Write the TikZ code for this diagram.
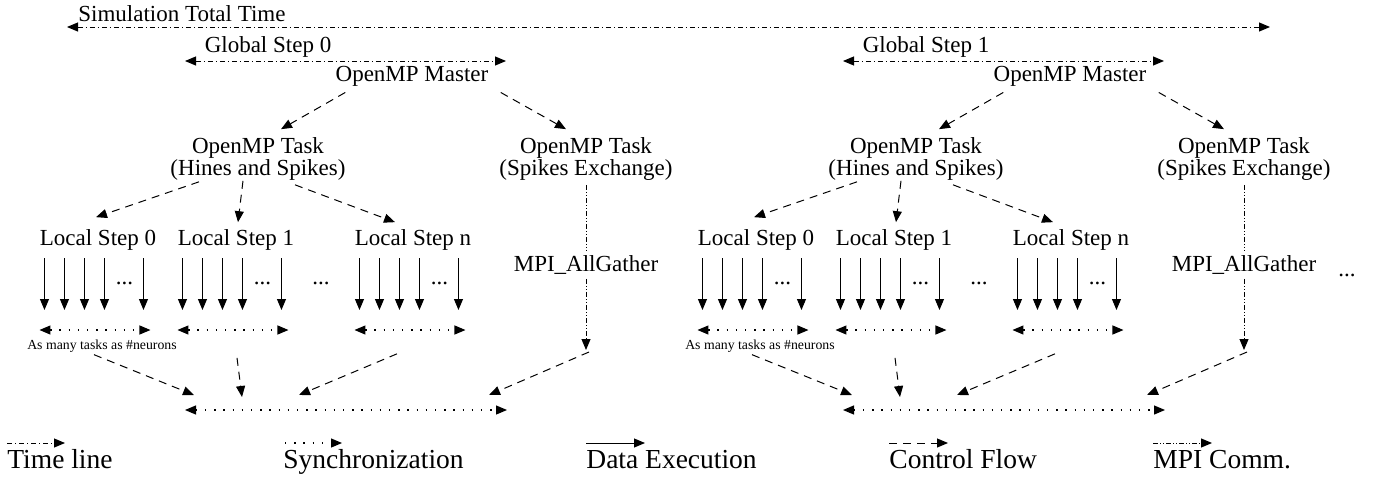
\documentclass[tikz,border=0pt]{standalone}
\usepackage{fontspec}
\setmainfont{Liberation Serif}
\usetikzlibrary{arrows.meta, calc, positioning}

\tikzstyle{plain_text} = [inner sep=2pt, font=\fontsize{11.5}{11}\selectfont, align=center]
\tikzstyle{small_text} = [inner sep=1pt, font=\fontsize{6.9}{8}\selectfont]
\tikzstyle{legend_text} = [inner sep=0pt, font=\fontsize{13.75}{15}\selectfont, anchor=base west]
\tikzstyle{one_head} = [-{Triangle[length=5.5pt, width=4.5pt]}]
\tikzstyle{two_heads} = [{Triangle[length=5.5pt, width=4.5pt]}-{Triangle[length=5.5pt, width=4.5pt]}]
\tikzstyle{time_line} = [line width=0.5pt, dash pattern=on 2.5pt off 1.5pt on 0.5pt off 1.5pt]
\tikzstyle{sync_line} = [line width=0.6pt, dash pattern=on 0.7pt off 3.9pt]
\tikzstyle{exec_line} = [line width=0.5pt]
\tikzstyle{ctrl_line} = [line width=0.5pt, dash pattern=on 4pt off 3pt]
\tikzstyle{mpi_line} = [line width=0.5pt, dash pattern=on 2.5pt off 1pt on 0.5pt off 1pt on 0.5pt off 1pt]

\begin{document}
\begin{tikzpicture}[x=0.5pt, y=-0.5pt]
\useasboundingbox (0,0) rectangle (1376,477);

% whole run
\node (sim) [plain_text, anchor=west] at (74,14) {Simulation Total Time};
\coordinate (sim_start) at (67,27);
\coordinate (sim_end) at (1270,27);
\draw [time_line, two_heads] (sim_start) -- (sim_end);

\foreach \g in {0,1} {
\begin{scope}[shift={(658*\g,0)}]
% global step and its master thread
\node (global\g) [plain_text] at (268,47) {Global Step \g};
\coordinate (global\g_start) at (185,61);
\coordinate (global\g_end) at (506,61);
\draw [time_line, two_heads] (global\g_start) -- (global\g_end);
\node (master\g) [plain_text] at (412,76) {OpenMP Master};
\node (hines\g) [plain_text] at (258,159) {OpenMP Task\\(Hines and Spikes)};
\node (spikes\g) [plain_text] at (586,159) {OpenMP Task\\(Spikes Exchange)};
\draw [ctrl_line, one_head] ($(master\g.south west)+(14,2)$) -- ($(hines\g.north)+(23,-4)$);
\draw [ctrl_line, one_head] ($(master\g.south east)+(8,2)$) -- ($(spikes\g.north)+(-20,-4)$);

% local steps, one task per neuron
\node (ls\g0) [plain_text] at (98,240) {Local Step 0};
\node (ls\g1) [plain_text] at (236,240) {Local Step 1};
\node (ls\g2) [plain_text] at (413,240) {Local Step n};
\draw [ctrl_line, one_head] ($(hines\g.south)+(-59,-3)$) -- ($(ls\g0.north)+(-2,-8)$);
\draw [ctrl_line, one_head] ($(hines\g.south)+(-15,-4)$) -- ($(ls\g1.north)+(2,-3)$);
\draw [ctrl_line, one_head] ($(hines\g.south)+(37,0)$) -- ($(ls\g2.north)+(-18,-3)$);
\foreach \k in {0,1,2} {
  \foreach \a in {9,29,49,69,108}
    \draw [exec_line, one_head] ($(ls\g\k.west)+(\a,18)$) -- ++(0,52);
  \node (dots\g\k) [plain_text, inner sep=0pt] at ($(ls\g\k.west)+(89,43)$) {...};
  \draw [sync_line, two_heads] ($(ls\g\k.west)+(4,90)$) -- ++(111,0);
}
\node (gap\g) [plain_text, inner sep=0pt] at (321,283) {...};
\node (neurons\g) [small_text] at (102,346) {As many tasks as \#neurons};

% spikes exchange
\node (mpi\g) [plain_text] at (586,265) {MPI\_AllGather};
\coordinate (mpi\g_end) at (586,350);
\draw [mpi_line] (spikes\g) -- (mpi\g);
\draw [mpi_line, one_head] (mpi\g) -- (mpi\g_end);

% barrier closing the global step
\coordinate (barrier\g_start) at (185,410);
\coordinate (barrier\g_end) at (507,410);
\draw [sync_line, two_heads] (barrier\g_start) -- (barrier\g_end);
\draw [ctrl_line, one_head] ($(neurons\g.south)+(-8,0)$) -- ($(barrier\g_start)+(9,-15)$);
\draw [ctrl_line, one_head] ($(ls\g1.south)+(1,103)$) -- ($(barrier\g_start)+(57,-13)$);
\draw [ctrl_line, one_head] ($(ls\g2.south)+(-16,99)$) -- ($(barrier\g_start)+(114,-15)$);
\draw [ctrl_line, one_head] ($(mpi\g_end)+(3,2)$) -- ($(barrier\g_start)+(304,-15)$);
\end{scope}
}
\node (more) [plain_text, inner sep=0pt] at (1347,275) {...};

% legend
\node (key_time) [legend_text] at (7,468) {Time line};
\coordinate (key_time_a) at (7,443);
\draw [time_line, one_head] (key_time_a) -- ++(58,0);
\node (key_sync) [legend_text] at (283,468) {Synchronization};
\coordinate (key_sync_a) at (285,443);
\draw [sync_line, one_head] (key_sync_a) -- ++(57,0);
\node (key_exec) [legend_text] at (586,468) {Data Execution};
\coordinate (key_exec_a) at (586,443);
\draw [exec_line, one_head] (key_exec_a) -- ++(59,0);
\node (key_ctrl) [legend_text] at (889,468) {Control Flow};
\coordinate (key_ctrl_a) at (889,443);
\draw [ctrl_line, one_head] (key_ctrl_a) -- ++(59,0);
\node (key_mpi) [legend_text] at (1153,468) {MPI Comm.};
\coordinate (key_mpi_a) at (1153,443);
\draw [mpi_line, one_head] (key_mpi_a) -- ++(59,0);
\end{tikzpicture}
\end{document}
